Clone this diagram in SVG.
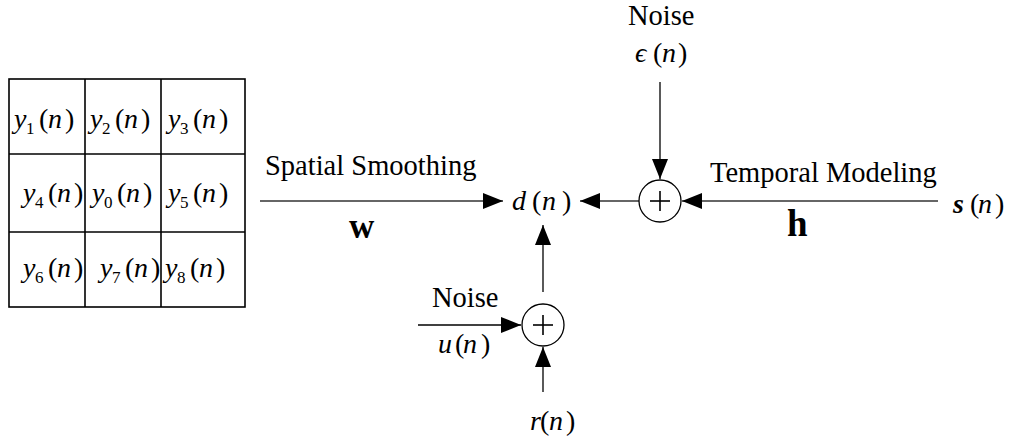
<svg xmlns="http://www.w3.org/2000/svg" width="1009" height="439" viewBox="0 0 1009 439" font-family="'Liberation Serif', 'Times New Roman', serif">
<style>
text{font-family:'Liberation Serif','Times New Roman',serif;font-size:28px;fill:#000}
.lab{font-size:28.5px}
.i{font-style:italic}
.sub{font-size:17px}
.b{font-weight:bold}
.grid{fill:none;stroke:#000;stroke-width:1.6}
.hl{stroke:#666;stroke-width:2;fill:none}
.vl{stroke:#000;stroke-width:1.3;fill:none}
.sum{fill:#fff;stroke:#000;stroke-width:1.3}
.plus{stroke:#000;stroke-width:1.6}
</style>
<defs>
<marker id="ah" viewBox="0 0 20 16" refX="20" refY="8" markerWidth="20" markerHeight="16" markerUnits="userSpaceOnUse" orient="auto">
<path d="M0,0 L20,8 L0,16 z" fill="#000"/>
</marker>
</defs>
<rect width="1009" height="439" fill="#fff"/>

<g id="grid">
<rect class="grid" x="9" y="79" width="236" height="228"/>
<line class="grid" x1="85" y1="79" x2="85" y2="307"/>
<line class="grid" x1="161" y1="79" x2="161" y2="307"/>
<line class="grid" x1="9" y1="154" x2="245" y2="154"/>
<line class="grid" x1="9" y1="232" x2="245" y2="232"/>
<text><tspan class="i" x="14" y="128">y</tspan><tspan class="sub" x="26" y="134">1</tspan><tspan x="39" y="128">(</tspan><tspan class="i" x="48" y="128">n</tspan><tspan x="65" y="128">)</tspan></text>
<text><tspan class="i" x="90" y="128">y</tspan><tspan class="sub" x="102" y="134">2</tspan><tspan x="115" y="128">(</tspan><tspan class="i" x="124" y="128">n</tspan><tspan x="141" y="128">)</tspan></text>
<text><tspan class="i" x="168" y="128">y</tspan><tspan class="sub" x="180" y="134">3</tspan><tspan x="193" y="128">(</tspan><tspan class="i" x="202" y="128">n</tspan><tspan x="219" y="128">)</tspan></text>
<text><tspan class="i" x="23" y="202">y</tspan><tspan class="sub" x="35" y="208">4</tspan><tspan x="48" y="202">(</tspan><tspan class="i" x="57" y="202">n</tspan><tspan x="74" y="202">)</tspan></text>
<text><tspan class="i" x="92" y="202">y</tspan><tspan class="sub" x="104" y="208">0</tspan><tspan x="117" y="202">(</tspan><tspan class="i" x="126" y="202">n</tspan><tspan x="143" y="202">)</tspan></text>
<text><tspan class="i" x="168" y="202">y</tspan><tspan class="sub" x="180" y="208">5</tspan><tspan x="193" y="202">(</tspan><tspan class="i" x="202" y="202">n</tspan><tspan x="219" y="202">)</tspan></text>
<text><tspan class="i" x="23" y="277">y</tspan><tspan class="sub" x="35" y="283">6</tspan><tspan x="48" y="277">(</tspan><tspan class="i" x="57" y="277">n</tspan><tspan x="74" y="277">)</tspan></text>
<text><tspan class="i" x="100" y="277">y</tspan><tspan class="sub" x="112" y="283">7</tspan><tspan x="125" y="277">(</tspan><tspan class="i" x="134" y="277">n</tspan><tspan x="151" y="277">)</tspan></text>
<text><tspan class="i" x="165" y="277">y</tspan><tspan class="sub" x="177" y="283">8</tspan><tspan x="190" y="277">(</tspan><tspan class="i" x="199" y="277">n</tspan><tspan x="216" y="277">)</tspan></text>
</g>

<g id="connectors">
<line class="hl" x1="260" y1="201" x2="503" y2="201" marker-end="url(#ah)"/>
<line class="hl" x1="639" y1="201" x2="580" y2="201" marker-end="url(#ah)"/>
<line class="hl" x1="938" y1="201" x2="682" y2="201" marker-end="url(#ah)"/>
<line class="vl" x1="660" y1="82" x2="660" y2="179" marker-end="url(#ah)"/>
<line class="vl" x1="543" y1="292" x2="543" y2="225" marker-end="url(#ah)"/>
<line class="vl" x1="418" y1="325" x2="521" y2="325" marker-end="url(#ah)"/>
<line class="vl" x1="543" y1="392" x2="543" y2="347" marker-end="url(#ah)"/>
</g>

<g id="sum-top">
<circle class="sum" cx="660" cy="201" r="21"/>
<line class="plus" x1="650" y1="201" x2="670" y2="201"/>
<line class="plus" x1="660" y1="191" x2="660" y2="211"/>
</g>
<g id="sum-bottom">
<circle class="sum" cx="543" cy="325" r="21"/>
<line class="plus" x1="533" y1="325" x2="553" y2="325"/>
<line class="plus" x1="543" y1="315" x2="543" y2="335"/>
</g>

<g id="labels">
<text class="lab" x="265" y="175">Spatial Smoothing</text>
<text class="b" x="349" y="238" style="font-size:35px">w</text>
<text class="lab" x="710" y="182">Temporal Modeling</text>
<text class="b" x="787" y="236" style="font-size:37px">h</text>
<text class="lab" x="628" y="25">Noise</text>
<text class="lab" x="432" y="307">Noise</text>
</g>

<g id="d-node"><text><tspan class="i" x="512" y="210">d</tspan><tspan x="532" y="210">(</tspan><tspan class="i" x="542" y="210">n</tspan><tspan x="562" y="210">)</tspan></text></g>
<g id="eps-node"><text><tspan class="i" x="635" y="62">ϵ</tspan><tspan x="653" y="62">(</tspan><tspan class="i" x="662" y="62">n</tspan><tspan x="678" y="62">)</tspan></text></g>
<g id="s-node"><text><tspan class="i b" x="953" y="213">s</tspan><tspan x="970" y="213">(</tspan><tspan class="i" x="978" y="213">n</tspan><tspan x="995" y="213">)</tspan></text></g>
<g id="u-node"><text><tspan class="i" x="438" y="353">u</tspan><tspan x="455" y="353">(</tspan><tspan class="i" x="463" y="353">n</tspan><tspan x="481" y="353">)</tspan></text></g>
<g id="r-node"><text><tspan class="i" x="530" y="430">r</tspan><tspan x="540" y="430">(</tspan><tspan class="i" x="549" y="430">n</tspan><tspan x="566" y="430">)</tspan></text></g>
</svg>
